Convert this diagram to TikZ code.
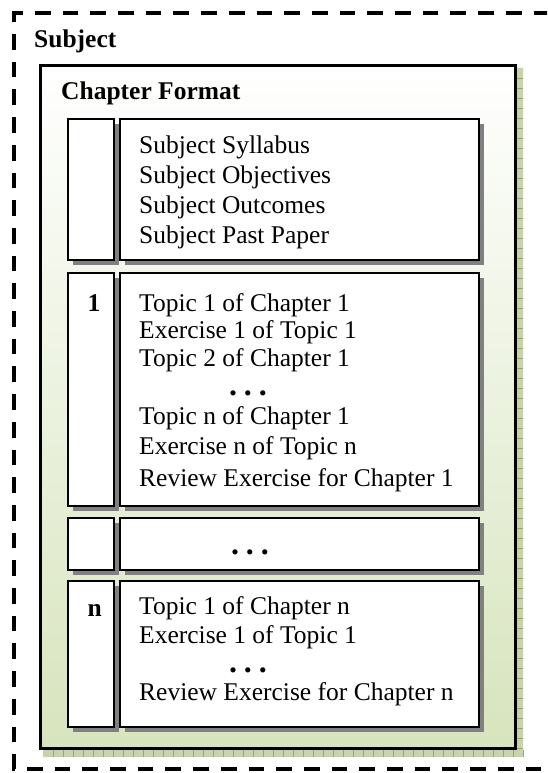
\documentclass[tikz,border=0pt]{standalone}
\usepackage{fontspec}
\setmainfont{Liberation Serif}
\usetikzlibrary{shadows}
\definecolor{shadegreen}{RGB}{215,228,189}
\definecolor{shgrid}{RGB}{200,210,172}
\definecolor{shtick}{RGB}{150,168,110}
\definecolor{boxshadow}{RGB}{128,128,128}
\newcommand\rowdots{\textbf{.\hspace{7pt}.\hspace{7pt}.}}
\begin{document}
\begin{tikzpicture}[x=1pt,y=-1pt,
  txt/.style={anchor=base west,inner sep=0pt,font=\fontsize{25.5}{30}\selectfont},
  boldtxt/.style={anchor=base west,inner sep=0pt,font=\fontsize{25.5}{30}\selectfont\bfseries},
  dotstxt/.style={anchor=base,inner sep=0pt,font=\fontsize{32}{30}\selectfont},
  cell/.style={draw=black,line width=2pt,fill=white,anchor=north west,inner sep=0pt,outer sep=0pt,
     drop shadow={shadow xshift=5pt,shadow yshift=-5pt,fill=boxshadow,opacity=1}},
  frame/.style={line width=3.5pt,dash pattern=on 15.7pt off 12pt},
  tick/.style={shtick,line width=0.6pt}
]
\useasboundingbox (0,0) rectangle (547,773);
\clip (0,0) rectangle (547,773);
\fill[white] (0,0) rectangle (547,773);

% outer dashed frame (Subject)
\draw[frame,dash phase=5pt] (12.25,13) -- (560,13);
\draw[frame,dash phase=6.7pt] (14,13) -- (14,769) -- (560,769);
\node[boldtxt] (subject) at (34,48) {Subject};

% textured shadow of the chapter box
\fill[shgrid] (517,68) -- (523,68) -- (523,757) -- (43,757) -- (43,750) -- (517,750) -- cycle;
\foreach \yy in {78,88,...,748} \draw[tick] (517,\yy) -- (523,\yy);
\foreach \xx in {53,63,...,523} \draw[tick] (\xx,750) -- (\xx,757);

% chapter box
\node[draw=black,line width=3pt,top color=white,bottom color=shadegreen,
      minimum width=475pt,minimum height=683pt,anchor=north west,inner sep=0pt,outer sep=0pt]
      (chapter) at (40.5,65.5) {};
\node[boldtxt] (chaptitle) at (61,100) {Chapter Format};

% row 1
\node[cell,minimum width=46pt,minimum height=140pt] (l1) at (68,119.5) {};
\node[cell,minimum width=359pt,minimum height=140pt] (r1) at (119.5,119.5) {};
\node[txt] (r1a) at (139,153) {Subject Syllabus};
\node[txt] (r1b) at (139,183) {Subject Objectives};
\node[txt] (r1c) at (139,213) {Subject Outcomes};
\node[txt] (r1d) at (139,243) {Subject Past Paper};

% row 2
\node[cell,minimum width=46pt,minimum height=233pt] (l2) at (68,272.5) {};
\node[cell,minimum width=359pt,minimum height=233pt] (r2) at (119.5,272.5) {};
\node[boldtxt] (n1) at (87.5,311) {1};
\node[txt] (r2a) at (139,311) {Topic 1 of Chapter 1};
\node[txt] (r2b) at (139,338.5) {Exercise 1 of Topic 1};
\node[txt] (r2c) at (139,366) {Topic 2 of Chapter 1};
\node[dotstxt] (r2d) at (248,395) {\rowdots};
\node[txt] (r2e) at (139,424) {Topic n of Chapter 1};
\node[txt] (r2f) at (139,454.5) {Exercise n of Topic n};
\node[txt] (r2g) at (139,486) {Review Exercise for Chapter 1};

% row 3
\node[cell,minimum width=46pt,minimum height=52pt] (l3) at (68,517.5) {};
\node[cell,minimum width=359pt,minimum height=52pt] (r3) at (119.5,517.5) {};
\node[dotstxt] (r3a) at (250,554) {\rowdots};

% row 4
\node[cell,minimum width=46pt,minimum height=146pt] (l4) at (68,580.5) {};
\node[cell,minimum width=359pt,minimum height=146pt] (r4) at (119.5,580.5) {};
\node[boldtxt] (nn) at (87.5,616) {n};
\node[txt] (r4a) at (139,614.5) {Topic 1 of Chapter n};
\node[txt] (r4b) at (139,643) {Exercise 1 of Topic 1};
\node[dotstxt] (r4c) at (248,672.5) {\rowdots};
\node[txt] (r4d) at (139,700) {Review Exercise for Chapter n};
\end{tikzpicture}
\end{document}
